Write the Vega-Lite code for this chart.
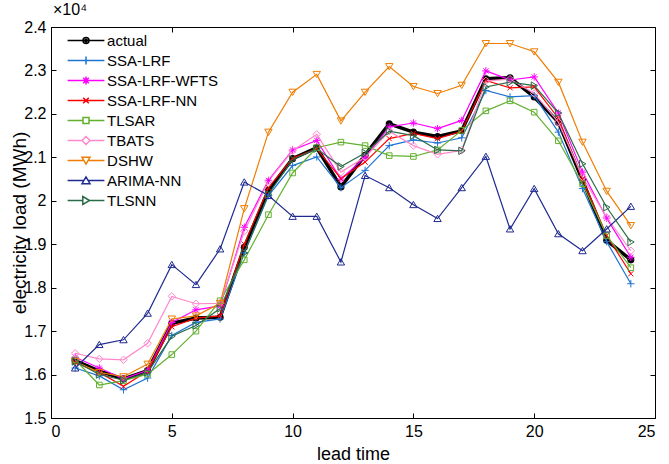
{
  "$schema": "https://vega.github.io/schema/vega-lite/v6.json",
  "width": 604,
  "height": 391,
  "padding": {"left": 10, "top": 2, "right": 9, "bottom": 0},
  "background": "white",
  "title": {"text": "×10⁴", "anchor": "start", "frame": "group", "fontSize": 16, "fontWeight": "normal", "offset": 1, "dx": 2, "color": "black", "font": "Liberation Sans"},
  "config": {
    "font": "Liberation Sans",
    "view": {"stroke": "black", "strokeWidth": 1},
    "axis": {"grid": false, "domainColor": "black", "tickColor": "black", "labelColor": "black", "titleColor": "black", "tickSize": -5, "labelFontSize": 16, "titleFontWeight": "normal", "labelFont": "Liberation Sans", "titleFont": "Liberation Sans"}
  },
  "data": {"values": [
    {"t":1,"series":"actual","load":16320},{"t":2,"series":"actual","load":16080},{"t":3,"series":"actual","load":15900},{"t":4,"series":"actual","load":16090},{"t":5,"series":"actual","load":17180},{"t":6,"series":"actual","load":17300},{"t":7,"series":"actual","load":17320},{"t":8,"series":"actual","load":18930},{"t":9,"series":"actual","load":20240},{"t":10,"series":"actual","load":20970},{"t":11,"series":"actual","load":21220},{"t":12,"series":"actual","load":20320},{"t":13,"series":"actual","load":21050},{"t":14,"series":"actual","load":21770},{"t":15,"series":"actual","load":21580},{"t":16,"series":"actual","load":21480},{"t":17,"series":"actual","load":21610},{"t":18,"series":"actual","load":22810},{"t":19,"series":"actual","load":22830},{"t":20,"series":"actual","load":22390},{"t":21,"series":"actual","load":21810},{"t":22,"series":"actual","load":20470},{"t":23,"series":"actual","load":19090},{"t":24,"series":"actual","load":18640},
    {"t":1,"series":"SSA-LRF","load":16150},{"t":2,"series":"SSA-LRF","load":15970},{"t":3,"series":"SSA-LRF","load":15650},{"t":4,"series":"SSA-LRF","load":15920},{"t":5,"series":"SSA-LRF","load":16900},{"t":6,"series":"SSA-LRF","load":17200},{"t":7,"series":"SSA-LRF","load":17280},{"t":8,"series":"SSA-LRF","load":18800},{"t":9,"series":"SSA-LRF","load":20120},{"t":10,"series":"SSA-LRF","load":20810},{"t":11,"series":"SSA-LRF","load":21010},{"t":12,"series":"SSA-LRF","load":20300},{"t":13,"series":"SSA-LRF","load":20700},{"t":14,"series":"SSA-LRF","load":21270},{"t":15,"series":"SSA-LRF","load":21400},{"t":16,"series":"SSA-LRF","load":21330},{"t":17,"series":"SSA-LRF","load":21450},{"t":18,"series":"SSA-LRF","load":22540},{"t":19,"series":"SSA-LRF","load":22390},{"t":20,"series":"SSA-LRF","load":22420},{"t":21,"series":"SSA-LRF","load":21580},{"t":22,"series":"SSA-LRF","load":20280},{"t":23,"series":"SSA-LRF","load":19060},{"t":24,"series":"SSA-LRF","load":18090},
    {"t":1,"series":"SSA-LRF-WFTS","load":16400},{"t":2,"series":"SSA-LRF-WFTS","load":16150},{"t":3,"series":"SSA-LRF-WFTS","load":15900},{"t":4,"series":"SSA-LRF-WFTS","load":16100},{"t":5,"series":"SSA-LRF-WFTS","load":17200},{"t":6,"series":"SSA-LRF-WFTS","load":17490},{"t":7,"series":"SSA-LRF-WFTS","load":17580},{"t":8,"series":"SSA-LRF-WFTS","load":19390},{"t":9,"series":"SSA-LRF-WFTS","load":20470},{"t":10,"series":"SSA-LRF-WFTS","load":21170},{"t":11,"series":"SSA-LRF-WFTS","load":21390},{"t":12,"series":"SSA-LRF-WFTS","load":20500},{"t":13,"series":"SSA-LRF-WFTS","load":21000},{"t":14,"series":"SSA-LRF-WFTS","load":21700},{"t":15,"series":"SSA-LRF-WFTS","load":21790},{"t":16,"series":"SSA-LRF-WFTS","load":21660},{"t":17,"series":"SSA-LRF-WFTS","load":21850},{"t":18,"series":"SSA-LRF-WFTS","load":22990},{"t":19,"series":"SSA-LRF-WFTS","load":22780},{"t":20,"series":"SSA-LRF-WFTS","load":22850},{"t":21,"series":"SSA-LRF-WFTS","load":22020},{"t":22,"series":"SSA-LRF-WFTS","load":20660},{"t":23,"series":"SSA-LRF-WFTS","load":19600},{"t":24,"series":"SSA-LRF-WFTS","load":18700},
    {"t":1,"series":"SSA-LRF-NN","load":16280},{"t":2,"series":"SSA-LRF-NN","load":16050},{"t":3,"series":"SSA-LRF-NN","load":15730},{"t":4,"series":"SSA-LRF-NN","load":16080},{"t":5,"series":"SSA-LRF-NN","load":17100},{"t":6,"series":"SSA-LRF-NN","load":17300},{"t":7,"series":"SSA-LRF-NN","load":17350},{"t":8,"series":"SSA-LRF-NN","load":19000},{"t":9,"series":"SSA-LRF-NN","load":20300},{"t":10,"series":"SSA-LRF-NN","load":20980},{"t":11,"series":"SSA-LRF-NN","load":21200},{"t":12,"series":"SSA-LRF-NN","load":20510},{"t":13,"series":"SSA-LRF-NN","load":20890},{"t":14,"series":"SSA-LRF-NN","load":21430},{"t":15,"series":"SSA-LRF-NN","load":21550},{"t":16,"series":"SSA-LRF-NN","load":21430},{"t":17,"series":"SSA-LRF-NN","load":21600},{"t":18,"series":"SSA-LRF-NN","load":22770},{"t":19,"series":"SSA-LRF-NN","load":22600},{"t":20,"series":"SSA-LRF-NN","load":22620},{"t":21,"series":"SSA-LRF-NN","load":21900},{"t":22,"series":"SSA-LRF-NN","load":20500},{"t":23,"series":"SSA-LRF-NN","load":19200},{"t":24,"series":"SSA-LRF-NN","load":18320},
    {"t":1,"series":"TLSAR","load":16340},{"t":2,"series":"TLSAR","load":15760},{"t":3,"series":"TLSAR","load":15860},{"t":4,"series":"TLSAR","load":16010},{"t":5,"series":"TLSAR","load":16460},{"t":6,"series":"TLSAR","load":17000},{"t":7,"series":"TLSAR","load":17700},{"t":8,"series":"TLSAR","load":18640},{"t":9,"series":"TLSAR","load":19680},{"t":10,"series":"TLSAR","load":20640},{"t":11,"series":"TLSAR","load":21220},{"t":12,"series":"TLSAR","load":21350},{"t":13,"series":"TLSAR","load":21270},{"t":14,"series":"TLSAR","load":21040},{"t":15,"series":"TLSAR","load":21020},{"t":16,"series":"TLSAR","load":21170},{"t":17,"series":"TLSAR","load":21620},{"t":18,"series":"TLSAR","load":22070},{"t":19,"series":"TLSAR","load":22300},{"t":20,"series":"TLSAR","load":22040},{"t":21,"series":"TLSAR","load":21380},{"t":22,"series":"TLSAR","load":20390},{"t":23,"series":"TLSAR","load":19200},{"t":24,"series":"TLSAR","load":18460},
    {"t":1,"series":"TBATS","load":16490},{"t":2,"series":"TBATS","load":16360},{"t":3,"series":"TBATS","load":16340},{"t":4,"series":"TBATS","load":16720},{"t":5,"series":"TBATS","load":17800},{"t":6,"series":"TBATS","load":17630},{"t":7,"series":"TBATS","load":17640},{"t":8,"series":"TBATS","load":19300},{"t":9,"series":"TBATS","load":20450},{"t":10,"series":"TBATS","load":21150},{"t":11,"series":"TBATS","load":21530},{"t":12,"series":"TBATS","load":20660},{"t":13,"series":"TBATS","load":21000},{"t":14,"series":"TBATS","load":21600},{"t":15,"series":"TBATS","load":21270},{"t":16,"series":"TBATS","load":21070},{"t":17,"series":"TBATS","load":21160},{"t":18,"series":"TBATS","load":22760},{"t":19,"series":"TBATS","load":22800},{"t":20,"series":"TBATS","load":22470},{"t":21,"series":"TBATS","load":21810},{"t":22,"series":"TBATS","load":20550},{"t":23,"series":"TBATS","load":19620},{"t":24,"series":"TBATS","load":18850},
    {"t":1,"series":"DSHW","load":16300},{"t":2,"series":"DSHW","load":16050},{"t":3,"series":"DSHW","load":15950},{"t":4,"series":"DSHW","load":16240},{"t":5,"series":"DSHW","load":17280},{"t":6,"series":"DSHW","load":17350},{"t":7,"series":"DSHW","load":17640},{"t":8,"series":"DSHW","load":19820},{"t":9,"series":"DSHW","load":21580},{"t":10,"series":"DSHW","load":22500},{"t":11,"series":"DSHW","load":22910},{"t":12,"series":"DSHW","load":21840},{"t":13,"series":"DSHW","load":22500},{"t":14,"series":"DSHW","load":23090},{"t":15,"series":"DSHW","load":22630},{"t":16,"series":"DSHW","load":22470},{"t":17,"series":"DSHW","load":22660},{"t":18,"series":"DSHW","load":23620},{"t":19,"series":"DSHW","load":23620},{"t":20,"series":"DSHW","load":23430},{"t":21,"series":"DSHW","load":22730},{"t":22,"series":"DSHW","load":21350},{"t":23,"series":"DSHW","load":20220},{"t":24,"series":"DSHW","load":19430},
    {"t":1,"series":"ARIMA-NN","load":16150},{"t":2,"series":"ARIMA-NN","load":16690},{"t":3,"series":"ARIMA-NN","load":16800},{"t":4,"series":"ARIMA-NN","load":17410},{"t":5,"series":"ARIMA-NN","load":18530},{"t":6,"series":"ARIMA-NN","load":18070},{"t":7,"series":"ARIMA-NN","load":18890},{"t":8,"series":"ARIMA-NN","load":20430},{"t":9,"series":"ARIMA-NN","load":20120},{"t":10,"series":"ARIMA-NN","load":19640},{"t":11,"series":"ARIMA-NN","load":19640},{"t":12,"series":"ARIMA-NN","load":18590},{"t":13,"series":"ARIMA-NN","load":20580},{"t":14,"series":"ARIMA-NN","load":20300},{"t":15,"series":"ARIMA-NN","load":19910},{"t":16,"series":"ARIMA-NN","load":19590},{"t":17,"series":"ARIMA-NN","load":20300},{"t":18,"series":"ARIMA-NN","load":21020},{"t":19,"series":"ARIMA-NN","load":19350},{"t":20,"series":"ARIMA-NN","load":20280},{"t":21,"series":"ARIMA-NN","load":19240},{"t":22,"series":"ARIMA-NN","load":18850},{"t":23,"series":"ARIMA-NN","load":19350},{"t":24,"series":"ARIMA-NN","load":19870},
    {"t":1,"series":"TLSNN","load":16300},{"t":2,"series":"TLSNN","load":16000},{"t":3,"series":"TLSNN","load":15870},{"t":4,"series":"TLSNN","load":16050},{"t":5,"series":"TLSNN","load":16880},{"t":6,"series":"TLSNN","load":17130},{"t":7,"series":"TLSNN","load":17520},{"t":8,"series":"TLSNN","load":18800},{"t":9,"series":"TLSNN","load":20150},{"t":10,"series":"TLSNN","load":20950},{"t":11,"series":"TLSNN","load":21200},{"t":12,"series":"TLSNN","load":20790},{"t":13,"series":"TLSNN","load":21100},{"t":14,"series":"TLSNN","load":21600},{"t":15,"series":"TLSNN","load":21500},{"t":16,"series":"TLSNN","load":21170},{"t":17,"series":"TLSNN","load":21150},{"t":18,"series":"TLSNN","load":22620},{"t":19,"series":"TLSNN","load":22730},{"t":20,"series":"TLSNN","load":22650},{"t":21,"series":"TLSNN","load":22020},{"t":22,"series":"TLSNN","load":20850},{"t":23,"series":"TLSNN","load":19850},{"t":24,"series":"TLSNN","load":19050}
  ]},
  "resolve": {"scale": {"shape": "independent", "color": "independent"}, "axis": {"x": "independent", "y": "independent"}},
  "layer": [
    {
      "transform": [{"filter": "datum.series === 'actual'"}],
      "mark": {"type": "line", "strokeWidth": 3.5, "color": "#000000"},
      "encoding": {
        "x": {"field": "t", "type": "quantitative", "scale": {"domain": [0, 25], "nice": false, "zero": false},
              "axis": {"orient": "bottom", "values": [0, 5, 10, 15, 20, 25], "title": "lead time", "titleFontSize": 18, "labelPadding": 10, "titlePadding": 6}},
        "y": {"field": "load", "type": "quantitative", "scale": {"domain": [15000, 24000], "nice": false, "zero": false},
              "axis": {"orient": "left", "values": [15000, 16000, 17000, 18000, 19000, 20000, 21000, 22000, 23000, 24000], "labelExpr": "format(datum.value / 10000, '.1~f')", "title": "electricity load (MWh)", "titleFontSize": 19, "labelPadding": 10, "titlePadding": -6}}
      }
    },
    {
      "transform": [{"filter": "datum.series === 'actual'"}],
      "mark": {"type": "point", "filled": true, "shape": "circle", "size": 50, "color": "#000000", "opacity": 1},
      "encoding": {
        "x": {"field": "t", "type": "quantitative", "scale": {"domain": [0, 25], "nice": false, "zero": false}, "axis": null},
        "y": {"field": "load", "type": "quantitative", "scale": {"domain": [15000, 24000], "nice": false, "zero": false}, "axis": null}
      }
    },
    {
      "transform": [{"filter": "datum.series !== 'actual'"}],
      "mark": {"type": "line", "strokeWidth": 1.2},
      "encoding": {
        "x": {"field": "t", "type": "quantitative", "scale": {"domain": [0, 25], "nice": false, "zero": false}, "axis": null},
        "y": {"field": "load", "type": "quantitative", "scale": {"domain": [15000, 24000], "nice": false, "zero": false}, "axis": null},
        "color": {"field": "series", "type": "nominal", "legend": null,
                  "scale": {"domain": ["actual","SSA-LRF","SSA-LRF-WFTS","SSA-LRF-NN","TLSAR","TBATS","DSHW","ARIMA-NN","TLSNN"],
                            "range": ["#000000","#1f74d2","#ff00ff","#ff0000","#62b02e","#ff88cc","#ef7d00","#1f2a90","#2a6b47"]}}
      }
    },
    {
      "transform": [{"filter": "datum.series !== 'actual'"}],
      "mark": {"type": "point", "filled": false, "size": 55, "strokeWidth": 1, "opacity": 1},
      "encoding": {
        "x": {"field": "t", "type": "quantitative", "scale": {"domain": [0, 25], "nice": false, "zero": false}, "axis": null},
        "y": {"field": "load", "type": "quantitative", "scale": {"domain": [15000, 24000], "nice": false, "zero": false}, "axis": null},
        "color": {"field": "series", "type": "nominal", "legend": null,
                  "scale": {"domain": ["actual","SSA-LRF","SSA-LRF-WFTS","SSA-LRF-NN","TLSAR","TBATS","DSHW","ARIMA-NN","TLSNN"],
                            "range": ["#000000","#1f74d2","#ff00ff","#ff0000","#62b02e","#ff88cc","#ef7d00","#1f2a90","#2a6b47"]}},
        "shape": {"field": "series", "type": "nominal", "legend": null,
                  "scale": {"domain": ["actual","SSA-LRF","SSA-LRF-WFTS","SSA-LRF-NN","TLSAR","TBATS","DSHW","ARIMA-NN","TLSNN"],
                            "range": ["circle",
                                      "M-1,0L1,0M0,-1L0,1",
                                      "M-1,0L1,0M0,-1L0,1M-0.7,-0.7L0.7,0.7M-0.7,0.7L0.7,-0.7",
                                      "M-0.7,-0.7L0.7,0.7M-0.7,0.7L0.7,-0.7",
                                      "M-0.75,-0.75L0.75,-0.75L0.75,0.75L-0.75,0.75Z",
                                      "M0,-1L1,0L0,1L-1,0Z",
                                      "M-1,-0.8L1,-0.8L0,0.9Z",
                                      "M-1,0.8L1,0.8L0,-0.9Z",
                                      "M-0.8,-1L0.9,0L-0.8,1Z"]}}
      }
    },
    {
      "mark": {"type": "point", "filled": false, "size": 64, "strokeWidth": 1.2, "opacity": 0},
      "encoding": {
        "x": {"field": "t", "type": "quantitative", "scale": {"domain": [0, 25], "nice": false, "zero": false},
              "axis": {"orient": "top", "values": [0, 5, 10, 15, 20, 25], "labels": false, "title": null, "domain": false}},
        "y": {"field": "load", "type": "quantitative", "scale": {"domain": [15000, 24000], "nice": false, "zero": false},
              "axis": {"orient": "right", "values": [15000, 16000, 17000, 18000, 19000, 20000, 21000, 22000, 23000, 24000], "labels": false, "title": null, "domain": false}},
        "color": {"field": "series", "type": "nominal",
                  "scale": {"domain": ["actual","SSA-LRF","SSA-LRF-WFTS","SSA-LRF-NN","TLSAR","TBATS","DSHW","ARIMA-NN","TLSNN"],
                            "range": ["#000000","#1f74d2","#ff00ff","#ff0000","#62b02e","#ff88cc","#ef7d00","#1f2a90","#2a6b47"]},
                  "legend": {"title": null, "orient": "none", "legendX": 27.5, "legendY": 6, "labelFontSize": 15, "labelColor": "black", "labelFont": "Liberation Sans", "symbolSize": 64, "labelOffset": 13.6, "rowPadding": 4, "padding": 0,
                             "encode": {"symbols": {"update": {"opacity": {"value": 1}, "fillOpacity": {"value": 1}, "strokeOpacity": {"value": 1},
                                                                "strokeWidth": [{"test": "datum.value === 'actual'", "value": 3.5}, {"value": 1.2}]}}}}},
        "shape": {"field": "series", "type": "nominal",
                  "scale": {"domain": ["actual","SSA-LRF","SSA-LRF-WFTS","SSA-LRF-NN","TLSAR","TBATS","DSHW","ARIMA-NN","TLSNN"],
                            "range": ["M-4.6,0L4.6,0M-0.75,0A0.75,0.75,0,1,0,0.75,0A0.75,0.75,0,1,0,-0.75,0M-0.3,0A0.3,0.3,0,1,0,0.3,0A0.3,0.3,0,1,0,-0.3,0",
                                      "M-4.6,0L4.6,0M0,-1L0,1",
                                      "M-4.6,0L4.6,0M0,-1L0,1M-0.7,-0.7L0.7,0.7M-0.7,0.7L0.7,-0.7",
                                      "M-4.6,0L4.6,0M-0.7,-0.7L0.7,0.7M-0.7,0.7L0.7,-0.7",
                                      "M-4.6,0L-0.75,0M0.75,0L4.6,0M-0.75,-0.75L0.75,-0.75L0.75,0.75L-0.75,0.75Z",
                                      "M-4.6,0L-1,0M1,0L4.6,0M0,-1L1,0L0,1L-1,0Z",
                                      "M-4.6,0L-0.5,0M0.5,0L4.6,0M-1,-0.8L1,-0.8L0,0.9Z",
                                      "M-4.6,0L-0.5,0M0.5,0L4.6,0M-1,0.8L1,0.8L0,-0.9Z",
                                      "M-4.6,0L-0.8,0M0.9,0L4.6,0M-0.8,-1L0.9,0L-0.8,1Z"]},
                  "legend": {"title": null, "orient": "none", "legendX": 27.5, "legendY": 6, "labelFontSize": 15, "labelColor": "black", "labelFont": "Liberation Sans", "symbolSize": 64, "labelOffset": 13.6, "rowPadding": 4, "padding": 0,
                             "encode": {"symbols": {"update": {"opacity": {"value": 1}, "fillOpacity": {"value": 1}, "strokeOpacity": {"value": 1},
                                                                "strokeWidth": [{"test": "datum.value === 'actual'", "value": 3.5}, {"value": 1.2}]}}}}}
      }
    }
  ]
}
